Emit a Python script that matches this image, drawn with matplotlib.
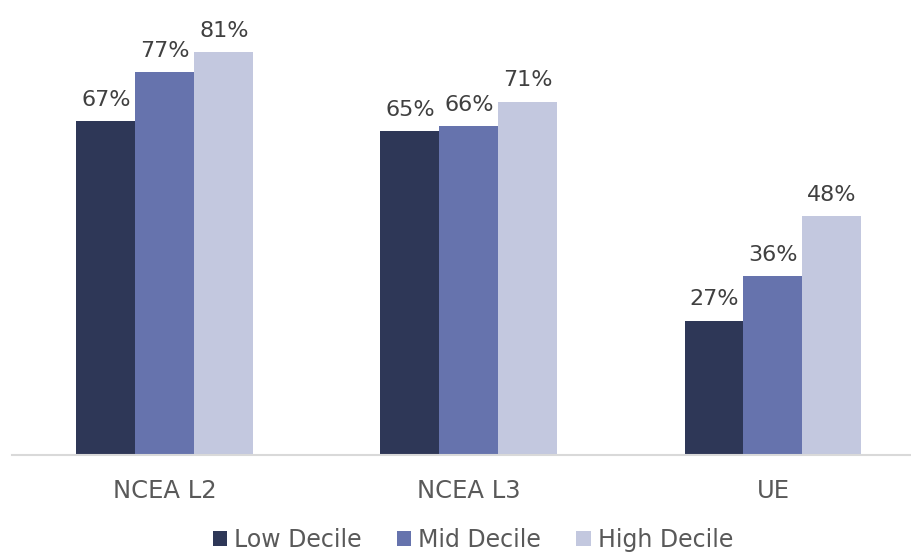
import matplotlib.pyplot as plt
import numpy as np

categories = ["NCEA L2", "NCEA L3", "UE"]
series_names = ["Low Decile", "Mid Decile", "High Decile"]
low_decile = [67, 65, 27]
mid_decile = [77, 66, 36]
high_decile = [81, 71, 48]

colors = ["#2E3757", "#6673AD", "#C3C8DF"]

fig = plt.figure(figsize=(9.11, 5.53), dpi=100)
ax = fig.add_axes([12 / 911, 98 / 553, 899 / 911, 448 / 553])

x = np.arange(len(categories))
width = 0.194
for i, (name, vals) in enumerate(zip(series_names, [low_decile, mid_decile, high_decile])):
    bars = ax.bar(x + (i - 1) * width, vals, width, color=colors[i], label=name)
    for b, v in zip(bars, vals):
        ax.annotate(f"{v}%", (b.get_x() + b.get_width() / 2, v),
                    xytext=(0, 8), textcoords="offset points",
                    ha="center", va="bottom", fontsize=16, color="#404040")

ax.set_xlim(-0.503, 2.454)
ax.set_ylim(0, 90)
ax.set_xticks(x)
ax.set_xticklabels(categories, fontsize=17.5, color="#595959")
ax.tick_params(axis="x", length=0, pad=17)
ax.set_yticks([])
for s in ["top", "right", "left"]:
    ax.spines[s].set_visible(False)
ax.spines["bottom"].set_color("#D9D9D9")
ax.spines["bottom"].set_linewidth(1.5)

fig.legend(loc="center", bbox_to_anchor=(0.519, 0.024), ncol=3, frameon=False,
           fontsize=17, labelcolor="#595959", handlelength=0.6, handleheight=0.6,
           handletextpad=0.3, columnspacing=1.5, borderpad=0)

fig.savefig("out.png", dpi=100)
